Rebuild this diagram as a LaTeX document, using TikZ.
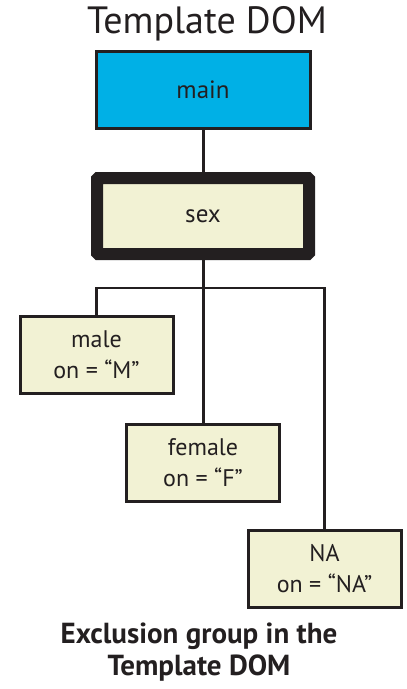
\documentclass[tikz,border=0pt]{standalone}
\usepackage{fontspec}
\setmainfont{PT Sans}
\definecolor{ink}{RGB}{35,31,32}
\definecolor{cyanfill}{RGB}{0,176,230}
\definecolor{cream}{RGB}{242,242,212}
\begin{document}
\begin{tikzpicture}[x=1pt,y=-1pt,
    every node/.style={text=ink,inner sep=0pt},
    root/.style={rectangle,draw=ink,line width=3pt,fill=cyanfill,minimum width=214pt,minimum height=77pt,font=\fontsize{25}{28}\selectfont},
    group/.style={rectangle,draw=ink,line width=12pt,fill=cream,rounded corners=1pt,minimum width=212pt,minimum height=76pt,font=\fontsize{25}{28}\selectfont},
    leaf/.style={rectangle,draw=ink,line width=3pt,fill=cream,minimum width=153pt,minimum height=77pt,align=center,font=\fontsize{24}{31}\selectfont},
    link/.style={draw=ink,line width=3pt}]
    \useasboundingbox (0,0) rectangle (407,689);
    \node (title) at (207,24) {\fontsize{38}{40}\selectfont Template DOM};
    \node[root] (main) at (203,89.5) {main};
    \node[group] (sex) at (203,216) {sex};
    \node[leaf] (male) at (96.5,354.5) {male\\on = “M”};
    \node[leaf] (female) at (203,462.5) {female\\on = “F”};
    \node[leaf] (na) at (324.5,568.5) {NA\\on = “NA”};
    \coordinate (bar) at (203,288);
    \draw[link] (main) -- (sex);
    \draw[link] (sex) -- (female);
    \draw[link,line width=2.5pt] (male.north) |- (bar) -| (na.north);
    \node[align=center,font=\bfseries\fontsize{29}{32}\selectfont] (caption) at (199,652) {Exclusion group in the\\Template DOM};
\end{tikzpicture}
\end{document}
